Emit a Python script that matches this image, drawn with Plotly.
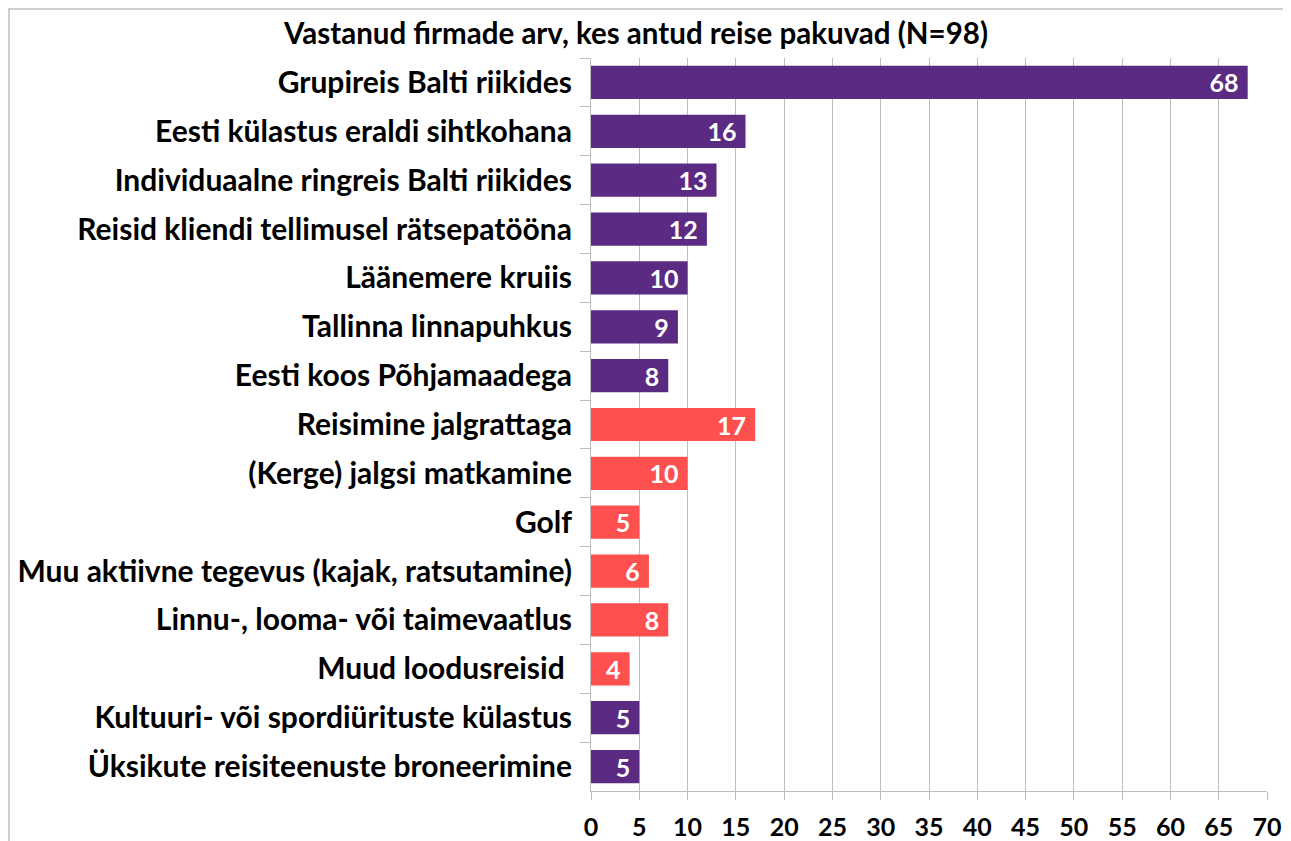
import plotly.graph_objects as go

categories = [
    "Grupireis Balti riikides",
    "Eesti külastus eraldi sihtkohana",
    "Individuaalne ringreis Balti riikides",
    "Reisid kliendi tellimusel rätsepatööna",
    "Läänemere kruiis",
    "Tallinna linnapuhkus",
    "Eesti koos Põhjamaadega",
    "Reisimine jalgrattaga",
    "(Kerge) jalgsi matkamine",
    "Golf",
    "Muu aktiivne tegevus (kajak, ratsutamine)",
    "Linnu-, looma- või taimevaatlus",
    "Muud loodusreisid ",
    "Kultuuri- või spordiürituste külastus",
    "Üksikute reisiteenuste broneerimine",
]
values = [68, 16, 13, 12, 10, 9, 8, 17, 10, 5, 6, 8, 4, 5, 5]
groups = ["p"] * 7 + ["r"] * 6 + ["p"] * 2
tick_vals = list(range(0, 75, 5))
title_text = "Vastanud firmade arv, kes antud reise pakuvad (N=98)"

PURPLE = "#5B2A82"
RED = "#FF5050"
colors = [PURPLE if g == "p" else RED for g in groups]
FONT = "Lato"

W, H = 1291, 841
L, R, T, B = 583, 32, 50, 58
PW, PH = W - L - R, H - T - B

fig = go.Figure(go.Bar(
    y=categories,
    x=values,
    orientation="h",
    marker=dict(color=colors, line=dict(width=0)),
    texttemplate="%{x}\u00a0",
    textposition="inside",
    insidetextanchor="end",
    textangle=0,
    constraintext="none",
    textfont=dict(family=FONT, size=25, color="white", weight="bold"),
    cliponaxis=False,
))

fig.update_layout(
    width=W, height=H,
    margin=dict(l=L, r=R, t=T, b=B, autoexpand=False),
    paper_bgcolor="white", plot_bgcolor="white",
    bargap=0.32,
    showlegend=False,
    title=dict(text=title_text, x=628 / W, xref="container", xanchor="center",
               y=1 - 26 / H, yref="container", yanchor="middle",
               font=dict(family=FONT, size=29.5, color="black", weight="bold")),
)
fig.update_xaxes(
    range=[0, 70], tickvals=tick_vals, ticktext=[str(t) for t in tick_vals],
    showgrid=True, gridcolor="#BEBEBE", gridwidth=1,
    showline=True, linecolor="#BEBEBE", linewidth=1,
    ticks="outside", ticklen=8, tickcolor="#BEBEBE",
    tickfont=dict(family=FONT, size=25, color="black", weight="bold"),
    ticklabelstandoff=6, automargin=False,
    zeroline=False, fixedrange=True,
)
fig.update_yaxes(
    autorange="reversed",
    showline=True, linecolor="#BEBEBE", linewidth=1,
    ticks="outside", ticklen=10, tickcolor="#BEBEBE", tickson="boundaries",
    tickfont=dict(family=FONT, size=30, color="black", weight="bold"),
    ticklabelstandoff=12, automargin=False,
)
fig.add_shape(type="rect", xref="paper", yref="paper",
              x0=-(L - 1) / PW, x1=1 + (R + 40) / PW,
              y0=-(B + 40) / PH, y1=1 + (T - 1) / PH,
              line=dict(color="#BEBEBE", width=1.5), layer="below")

fig.write_html("out.html")
